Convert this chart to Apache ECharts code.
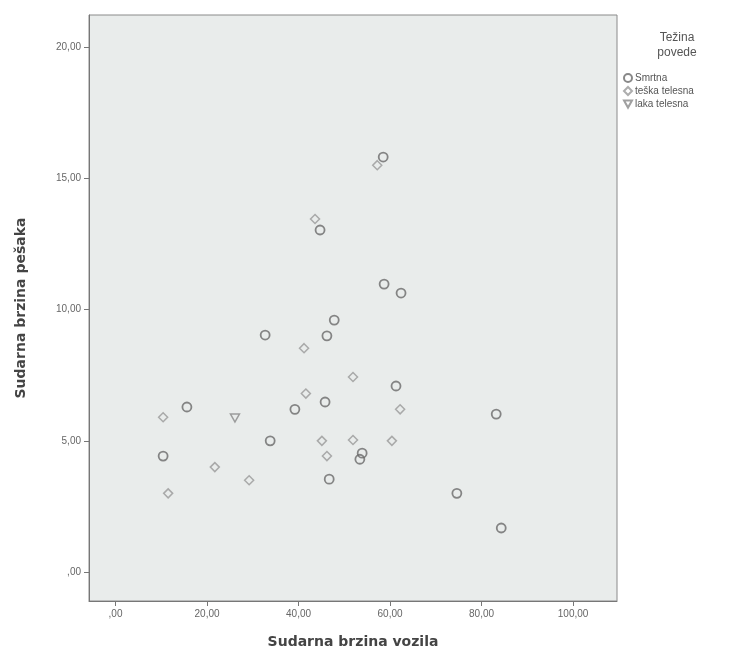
<!DOCTYPE html>
<html>
<head>
<meta charset="utf-8">
<script src="https://cdn.jsdelivr.net/npm/echarts@6/dist/echarts.min.js"></script>
<style>
  html, body { margin: 0; padding: 0; background: #fff; }
  #chart { width: 730px; height: 660px; }
</style>
</head>
<body>
<div id="chart"></div>
<script>
// podaci ocitani sa slike
var smrtnaX = [58.5, 44.7, 58.7, 62.4, 47.8, 32.7, 46.2, 15.6, 39.2, 45.8, 33.8, 46.7, 10.4, 61.3, 83.2, 53.9, 53.4, 74.6, 84.3];
var smrtnaY = [15.81, 13.03, 10.97, 10.63, 9.6, 9.03, 9.0, 6.29, 6.2, 6.48, 5.0, 3.54, 4.42, 7.09, 6.02, 4.53, 4.3, 3.0, 1.68];
var teskaX = [57.2, 43.6, 41.2, 10.4, 41.6, 45.1, 46.2, 21.7, 29.2, 11.5, 51.9, 62.2, 51.9, 60.4];
var teskaY = [15.5, 13.45, 8.53, 5.9, 6.8, 5.0, 4.42, 4.0, 3.5, 3.0, 7.43, 6.2, 5.03, 5.0];
var lakaX = [26.1];
var lakaY = [5.87];
var xTicks = [0, 20, 40, 60, 80, 100];
var yTicks = [0, 5, 10, 15, 20];

function zip(xs, ys) {
  var out = [];
  for (var i = 0; i < xs.length; i++) out.push([xs[i], ys[i]]);
  return out;
}
function fmt(v) {
  if (v === 0) return ',00';
  return v.toFixed(2).replace('.', ',');
}

var chartDom = document.getElementById('chart');
var myChart = echarts.init(chartDom);

var downTriangle = 'path://M0,0 L10,0 L5,9 Z';

var option = {
  backgroundColor: '#ffffff',
  animation: false,
  title: {
    text: 'Težina\npovede',
    left: 672,
    top: 25,
    textAlign: 'center',
    textStyle: {
      fontFamily: 'Liberation Sans',
      fontSize: 12,
      fontWeight: 'normal',
      color: '#555',
      lineHeight: 15
    }
  },
  legend: {
    orient: 'vertical',
    left: 618,
    top: 68,
    itemWidth: 8,
    itemHeight: 8,
    itemGap: 3,
    textStyle: {
      fontFamily: 'Liberation Sans',
      fontSize: 10,
      color: '#555',
      padding: [0, 0, 0, -2]
    },
    data: [
      { name: 'Smrtna' },
      { name: 'teška telesna' },
      { name: 'laka telesna', icon: downTriangle }
    ]
  },
  grid: {
    left: 89,
    right: 113,
    top: 15,
    bottom: 59,
    show: true,
    backgroundColor: '#e9eceb',
    borderColor: '#8a8a8a',
    borderWidth: 1
  },
  xAxis: {
    type: 'value',
    min: -5.8,
    max: 109.6,
    name: 'Sudarna brzina vozila',
    nameLocation: 'middle',
    nameGap: 34,
    nameTextStyle: {
      fontFamily: 'DejaVu Sans',
      fontSize: 14,
      fontWeight: 'bold',
      color: '#444'
    },
    splitLine: { show: false },
    axisLine: { show: true, onZero: false, lineStyle: { color: '#777', width: 1 } },
    axisTick: { show: true, customValues: xTicks, length: 5, lineStyle: { color: '#777' } },
    axisLabel: {
      customValues: xTicks,
      formatter: fmt,
      fontFamily: 'Liberation Sans',
      fontSize: 10,
      color: '#666',
      margin: 8
    }
  },
  yAxis: {
    type: 'value',
    min: -1.1,
    max: 21.22,
    name: 'Sudarna brzina pešaka',
    nameLocation: 'middle',
    nameGap: 61,
    nameTextStyle: {
      fontFamily: 'DejaVu Sans',
      fontSize: 14,
      fontWeight: 'bold',
      color: '#444'
    },
    splitLine: { show: false },
    axisLine: { show: true, onZero: false, lineStyle: { color: '#777', width: 1 } },
    axisTick: { show: true, customValues: yTicks, length: 5, lineStyle: { color: '#777' } },
    axisLabel: {
      customValues: yTicks,
      formatter: fmt,
      fontFamily: 'Liberation Sans',
      fontSize: 10,
      color: '#666',
      margin: 8
    }
  },
  series: [
    {
      name: 'Smrtna',
      type: 'scatter',
      symbol: 'circle',
      symbolSize: 9,
      data: zip(smrtnaX, smrtnaY),
      itemStyle: { color: 'rgba(0,0,0,0)', borderColor: '#6a6a6a', borderWidth: 1.8 }
    },
    {
      name: 'teška telesna',
      type: 'scatter',
      symbol: 'diamond',
      symbolSize: 9,
      data: zip(teskaX, teskaY),
      itemStyle: { color: 'rgba(0,0,0,0)', borderColor: '#999', borderWidth: 1.5 }
    },
    {
      name: 'laka telesna',
      type: 'scatter',
      symbol: downTriangle,
      symbolSize: [9, 8],
      data: zip(lakaX, lakaY),
      itemStyle: { color: 'rgba(0,0,0,0)', borderColor: '#888', borderWidth: 1.5 }
    }
  ]
};

myChart.setOption(option);
</script>
</body>
</html>
